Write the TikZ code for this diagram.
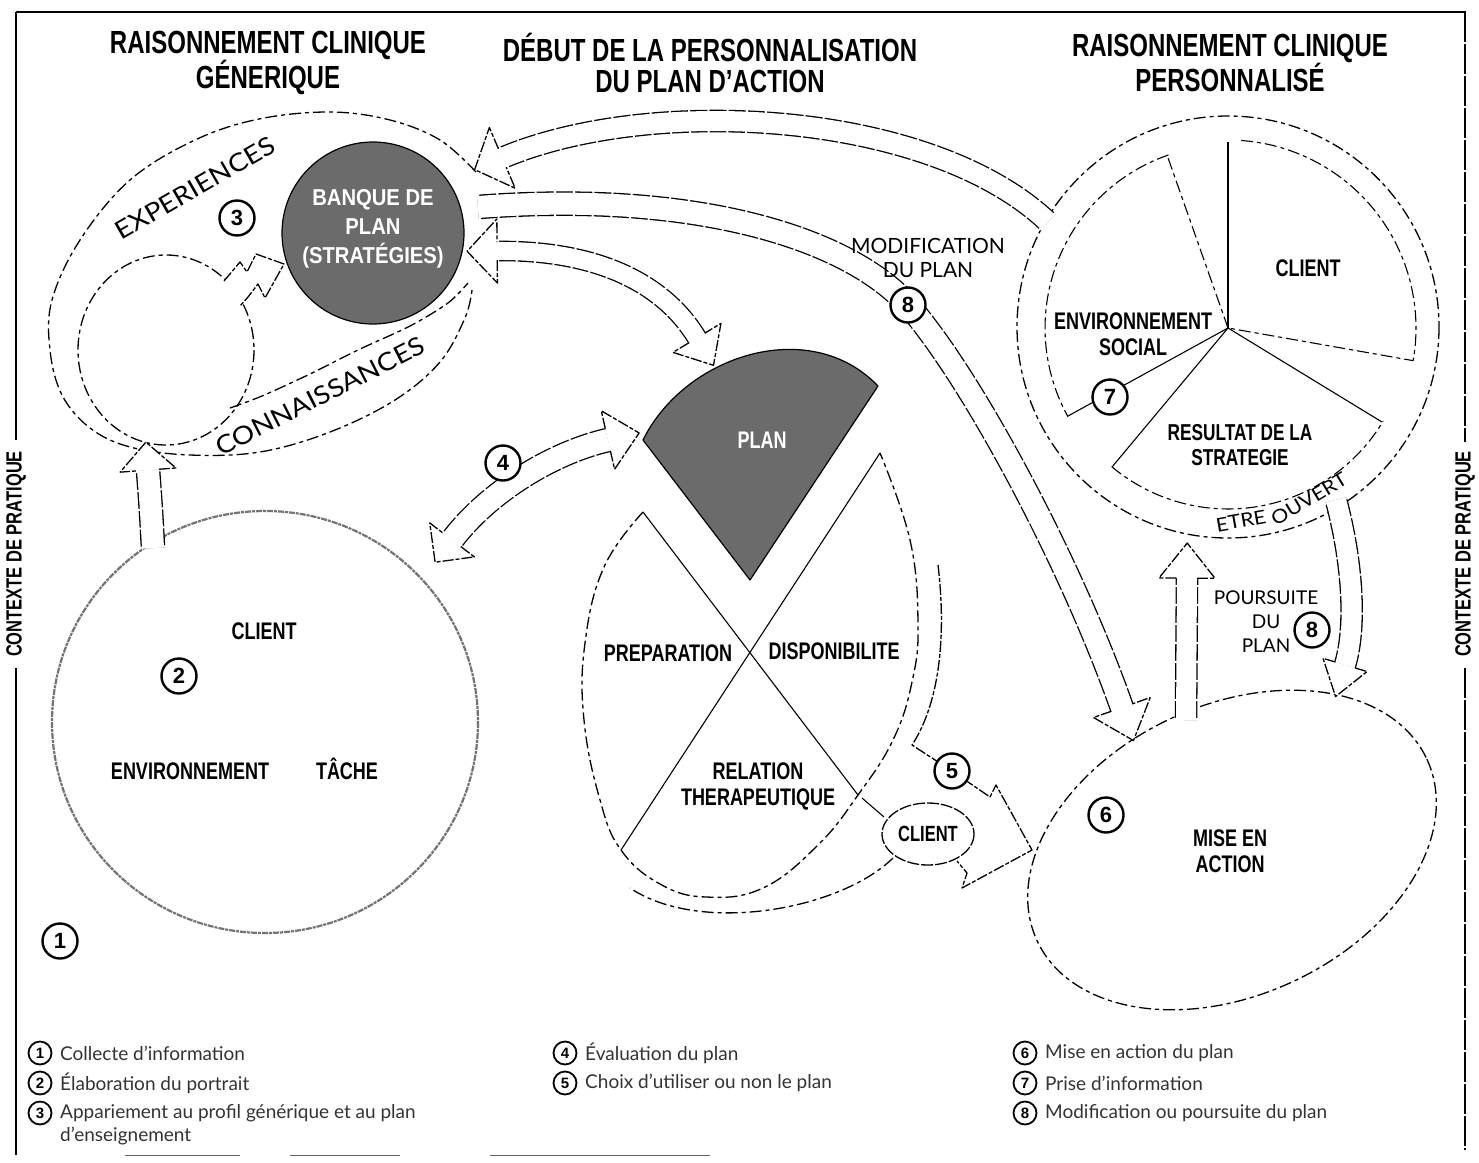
\documentclass[tikz,border=0pt]{standalone}
\usepackage{fontspec}
\setmainfont{Liberation Sans}
\newfontfamily\cnd[FakeStretch=0.75]{Liberation Sans}
\newfontfamily\cndw[FakeStretch=0.88]{Liberation Sans}
\newfontfamily\latow[FakeStretch=1.12]{Lato}
\newfontfamily\lato{Lato}
\usetikzlibrary{decorations.markings}

\tikzset{
  ol/.style={line width=1.3pt, dash pattern=on 11pt off 2pt on 4pt off 2pt},
  dsh/.style={line width=1.3pt, dash pattern=on 12pt off 4pt on 4pt off 4pt},
  thinl/.style={line width=1.1pt},
  lab/.style={font=\cnd\bfseries\fontsize{24}{26}\selectfont, align=center, inner sep=0pt},
  ttl/.style={font=\cnd\bfseries\fontsize{32}{31}\selectfont, align=center, inner sep=0pt},
  lite/.style={font=\lato\fontsize{21}{24}\selectfont, align=center, inner sep=0pt},
  ring/.style={font=\latow\fontsize{25}{25}\selectfont, inner sep=0pt},
  num/.style={circle, draw, line width=2.4pt, fill=white, minimum size=35pt, inner sep=0pt, font=\bfseries\fontsize{22}{22}\selectfont},
  lnum/.style={circle, draw, line width=1.8pt, fill=white, minimum size=23pt, inner sep=0pt, font=\bfseries\fontsize{15}{15}\selectfont},
  leg/.style={anchor=west, inner sep=0pt, font=\lato\fontsize{19}{22}\selectfont, text=black!80},
}
\newcommand\hdshape[3]{%
  \fill[white] (0,-#2) -- (#3,0) -- (0,#2) -- cycle;
  \draw[ol] (0,#1) -- (0,#2) -- (#3,0) -- (0,-#2) -- (0,-#1);}
\newcommand\hshaft[2]{%
  \draw[line width=1.3pt, double=white, double distance=#2pt] #1;
  \draw[white, line width=#2pt+4pt, dash pattern=on 2pt off 17pt] #1;}
\newcommand\harrowE[5]{%
  \hshaft{#1}{#2}
  \path[decorate, decoration={markings, mark=at position 0.9995 with {\hdshape{#3}{#4}{#5}}}] #1;}
\newcommand\harrowB[7]{%
  \hshaft{#1}{#2}
  \path[decorate, decoration={markings, mark=at position 0.0005 with {\hdshape{#3}{#6}{-#7}}, mark=at position 0.9995 with {\hdshape{#3}{#4}{#5}}}] #1;}

\begin{document}
\begin{tikzpicture}[x=1pt, y=-1pt, line join=round]
\fill[white] (0,0) rectangle (1479,1162);
\useasboundingbox (0,0) rectangle (1479,1162);

% ---------- frame ----------
\draw[line width=1.6pt] (16,12) -- (1466,12);
\draw[line width=1.4pt] (16,12) -- (16,440) (16,668) -- (16,1155);
\draw[line width=1.2pt, dash pattern=on 30pt off 2pt] (1465,12) -- (1465,442) (1465,668) -- (1465,1150);
\node[lab, rotate=90, font=\cnd\bfseries\fontsize{22}{22}\selectfont] (ctxL) at (16,554) {CONTEXTE DE PRATIQUE};
\node[lab, rotate=90, font=\cnd\bfseries\fontsize{22}{22}\selectfont] (ctxR) at (1465,554) {CONTEXTE DE PRATIQUE};
\draw[line width=1pt, black!60] (125,1155) -- (240,1155) (290,1155) -- (400,1155) (490,1155) -- (710,1155);

% ---------- titles ----------
\node[ttl] (t1) at (268,63) {RAISONNEMENT CLINIQUE\\GÉNERIQUE};
\node[ttl] (t2) at (710,63) {DÉBUT DE LA PERSONNALISATION\\DU PLAN D’ACTION};
\node[ttl] (t3) at (1230,63) {RAISONNEMENT CLINIQUE\\PERSONNALISÉ};

% ---------- generic reasoning group ----------
\draw[dsh] plot[smooth, tension=0.6] coordinates {(476,172) (440,140) (390,120) (330,112) (259,119) (195,140) (130,180) (80,240) (52,300) (50,350) (62,395) (90,428) (130,447) (190,455) (260,452) (330,432) (395,400) (440,362) (465,318) (472,290)};
\draw[dsh] plot[smooth] coordinates {(230,408) (262,396) (310,374) (358,350) (410,326) (448,303) (468,283)};
\draw[dsh] (166,350) ellipse [x radius=88, y radius=95];
\filldraw[fill=black!58, draw=black, line width=1.2pt] (373,233) circle [radius=91];
\node[font=\cndw\bfseries\fontsize{23}{29}\selectfont, text=white, align=center, inner sep=0pt] (banque) at (373,229) {BANQUE DE\\PLAN\\(STRATÉGIES)};
\node[ring, rotate=30] (exper) at (195,188) {EXPERIENCES};
\node[ring, rotate=27] (conna) at (320,396) {CONNAISSANCES};
% zigzag arrow small circle -> banque
\fill[white] (224,281) -- (240,262) -- (247,272) -- (256,254) -- (284,264) -- (265,298) -- (258,284) -- (248,297) -- (240,306) -- cycle;
\draw[ol] (224,281) -- (240,262) -- (247,272) -- (256,254) -- (284,264) -- (265,298) -- (258,284) -- (248,297) -- (240,306);

% ---------- big circle ----------
\draw[line width=2.2pt, black!55, dash pattern=on 6pt off 1pt on 3pt off 1pt] (265,722) ellipse [x radius=213, y radius=211];
\node[lab] (cl1) at (264,631) {CLIENT};
\node[lab] (env1) at (190,771) {ENVIRONNEMENT};
\node[lab] (tache) at (347,769) {TÂCHE};

% ---------- plan egg ----------
\filldraw[fill=black!58, draw=black, line width=1.2pt] (750,580) -- (643,440) .. controls (685,355) and (810,315) .. (878,386) -- cycle;
\node[lab, text=white] (plan) at (762,440) {PLAN};
\draw[thinl] (643,512) -- (858,795);
\draw[thinl] (880,453) -- (621,850);
\draw[dsh] plot[smooth, tension=0.7] coordinates {(643,512) (604,567) (585,643) (584,720) (600,800) (621,850) (660,884) (706,897) (763,888) (818,845) (858,795) (893,740) (912,682) (918,624) (910,540) (880,453)};
\node[lab] (prep) at (668,653) {PREPARATION};
\node[lab] (dispo) at (834,651) {DISPONIBILITE};
\node[lab] (relat) at (758,786) {RELATION\\THERAPEUTIQUE};
% arrow 5
\draw[ol] (938,565) .. controls (948,650) and (935,710) .. (912,745) -- (952,771) -- (990,797) -- (996,785) -- (1032,850) -- (962,888) -- (967,873) -- (957,861);
\draw[thinl] (862,798) -- (884,817);
\draw[dsh] (893,858) .. controls (840,910) and (700,935) .. (630,888);
\draw[line width=1.3pt, dash pattern=on 12pt off 2pt] (928,834) ellipse [x radius=46, y radius=31];
\node[lab, font=\cnd\bfseries\fontsize{22}{22}\selectfont] (cl3) at (928,834) {CLIENT};

% ---------- personalised reasoning circle ----------
\draw[dsh] (1228,327) circle [radius=211];
\draw[thinl] (1228,142) -- (1228,328);
\draw[dsh, line width=1.1pt] plot[domain=86:-10, samples=40, variable=\t] ({1228+188*cos(\t)},{328-188*sin(\t)}) -- (1228,328);
\draw[dsh, line width=1.1pt] (1228,328) -- (1167,155);
\draw[dsh, line width=1.1pt] plot[domain=109:209, samples=40, variable=\t] ({1228+183*cos(\t)},{328-183*sin(\t)});
\draw[thinl] (1068,416) -- (1228,328);
\draw[thinl] (1112,467) -- (1228,328) -- (1382,422);
\draw[dsh, line width=1.1pt] plot[domain=230:329, samples=40, variable=\t] ({1228+181*cos(\t)},{328-181*sin(\t)});
\node[lab] (cl2) at (1308,268) {CLIENT};
\node[lab] (envs) at (1133,334) {ENVIRONNEMENT\\SOCIAL};
\node[lab, font=\cnd\bfseries\fontsize{23}{25}\selectfont] (resu) at (1240,445) {RESULTAT DE LA\\STRATEGIE};
\node[ring, font=\latow\fontsize{19}{19}\selectfont, rotate=10] (etre) at (1241,521) {ETRE};
\node[ring, font=\latow\fontsize{19}{19}\selectfont, rotate=31] (ouvert) at (1309,499) {OUVERT};

% ---------- mise en action ----------
\draw[dsh, rotate around={25:(1232,850)}] (1232,850) ellipse [x radius=215, y radius=145];
\node[lab] (mise) at (1230,851) {MISE EN\\ACTION};

% ---------- hollow arrows ----------
\harrowE{(1048,222) .. controls (930,110) and (650,95) .. (502,158)}{20}{10}{33}{30}
\harrowE{(478,207) .. controls (700,190) and (850,240) .. (908,305) .. controls (970,375) and (1070,560) .. (1122,708)}{22}{11}{30}{35}
\harrowB{(497,251) .. controls (600,250) and (665,285) .. (697,338)}{18}{9}{28}{32}{32}{30}
\harrowB{(452,540) .. controls (490,490) and (555,452) .. (608,440)}{22}{11}{30}{32}{28}{28}
\harrowE{(153,548) .. controls (151,510) .. (148,470)}{22}{11}{28}{28}
\harrowE{(1186,720) -- (1187,578)}{20}{10}{28}{35}
\harrowE{(1336,500) .. controls (1352,560) and (1357,625) .. (1345,665)}{20}{10}{23}{33}

\node[lite] (modif) at (928,258) {MODIFICATION\\DU PLAN};
\node[lite, font=\lato\fontsize{19}{24}\selectfont] (pours) at (1266,622) {POURSUITE\\DU\\PLAN};

% ---------- circled numbers ----------
\node[num] (n1) at (60,941) {1};
\node[num] (n2) at (179,676) {2};
\node[num] (n3) at (237,218) {3};
\node[num] (n4) at (503,463) {4};
\node[num] (n5) at (952,771) {5};
\node[num] (n6) at (1106,815) {6};
\node[num] (n7) at (1110,397) {7};
\node[num] (n8a) at (908,305) {8};
\node[num] (n8b) at (1312,630) {8};

% ---------- legend ----------
\node[lnum] (l1) at (40,1053) {1}; \node[leg] (lt1) at (60,1053) {Collecte d’information};
\node[lnum] (l2) at (40,1083) {2}; \node[leg] (lt2) at (60,1083) {Élaboration du portrait};
\node[lnum] (l3) at (40,1113) {3}; \node[leg] (lt3) at (60,1113) {Appariement au profil générique et au plan};
\node[leg] (lt3b) at (60,1136) {d’enseignement};
\node[lnum] (l4) at (565,1053) {4}; \node[leg] (lt4) at (585,1053) {Évaluation du plan};
\node[lnum] (l5) at (565,1083) {5}; \node[leg] (lt5) at (585,1083) {Choix d’utiliser ou non le plan};
\node[lnum] (l6) at (1025,1053) {6}; \node[leg] (lt6) at (1045,1053) {Mise en action du plan};
\node[lnum] (l7) at (1025,1083) {7}; \node[leg] (lt7) at (1045,1083) {Prise d’information};
\node[lnum] (l8) at (1025,1113) {8}; \node[leg] (lt8) at (1045,1113) {Modification ou poursuite du plan};
\end{tikzpicture}
\end{document}
